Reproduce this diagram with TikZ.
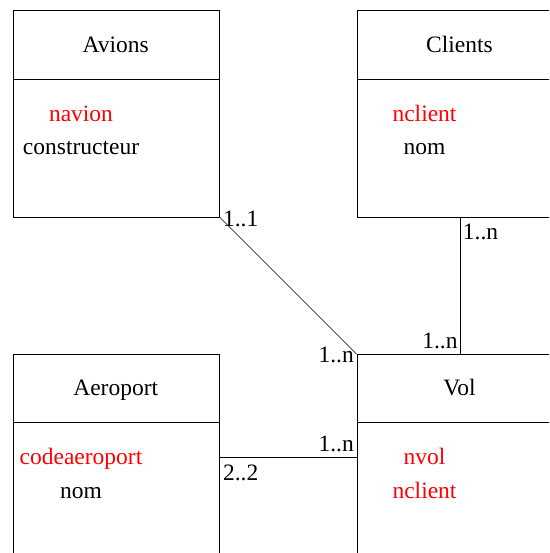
\documentclass[tikz,border=0pt]{standalone}
\usepackage{fontspec}
\setmainfont{Liberation Serif}
\usetikzlibrary{calc}
\begin{document}
\begin{tikzpicture}[x=1pt,y=-1pt,
  every node/.style={font=\fontsize{23.5}{28}\selectfont, inner sep=0pt},
  entity/.style={draw=black, line width=0.9pt, rectangle, anchor=north west,
    minimum width=206.5pt, minimum height=206pt},
  title/.style={anchor=base},
  key/.style={anchor=base, text=red},
  attr/.style={anchor=base, text=black},
  card/.style={inner sep=0pt},
  link/.style={draw=black, line width=0.7pt}]
\useasboundingbox (0,0) rectangle (549,553);
\clip (0,0) rectangle (549,553);

% entity boxes
\node[entity] (avions) at (12.5,10.5) {};
\node[entity] (clients) at (356.5,10.5) {};
\node[entity] (aeroport) at (12.5,354) {};
\node[entity] (vol) at (356.5,354) {};

% header separators
\foreach \e in {avions,clients,aeroport,vol}
  \draw[line width=0.9pt] ($(\e.north west)+(0,68.5)$) -- ($(\e.north east)+(0,68.5)$);

% titles
\node[title] (tAvions) at (115.75,53) {Avions};
\node[title] (tClients) at (459.5,53) {Clients};
\node[title] (tAeroport) at (115.75,395) {Aeroport};
\node[title] (tVol) at (459.5,395) {Vol};

% attributes
\node[key]  (aNavion) at (81,122) {navion};
\node[attr] (aConstr) at (81,155) {constructeur};
\node[key]  (aNclient) at (424.5,122) {nclient};
\node[attr] (aNomC) at (424.5,155) {nom};
\node[key]  (aCode) at (81,464) {codeaeroport};
\node[attr] (aNomA) at (81,498) {nom};
\node[key]  (aNvol) at (424.5,464) {nvol};
\node[key]  (aNclientV) at (424.5,498) {nclient};

% connectors
\coordinate (aeroR) at ($(aeroport.north east)+(0,103)$);
\coordinate (volL) at ($(vol.north west)+(0,103)$);
\draw[link] (avions.south east) -- (vol.north west);
\draw[link] (clients.south) -- (vol.north);
\draw[link] (aeroR) -- (volL);

% cardinalities
\node[card, anchor=base west] (c1) at ($(avions.south east)+(3,9)$) {1..1};
\node[card, anchor=base east] (c2) at ($(vol.north west)+(-2.5,8)$) {1..n};
\node[card, anchor=base west] (c3) at ($(clients.south)+(2.5,22)$) {1..n};
\node[card, anchor=base east] (c4) at ($(vol.north)+(-2.5,-6)$) {1..n};
\node[card, anchor=base east] (c5) at ($(volL)+(-2.5,-6)$) {1..n};
\node[card, anchor=base west] (c6) at ($(aeroR)+(3,23)$) {2..2};
\end{tikzpicture}
\end{document}
